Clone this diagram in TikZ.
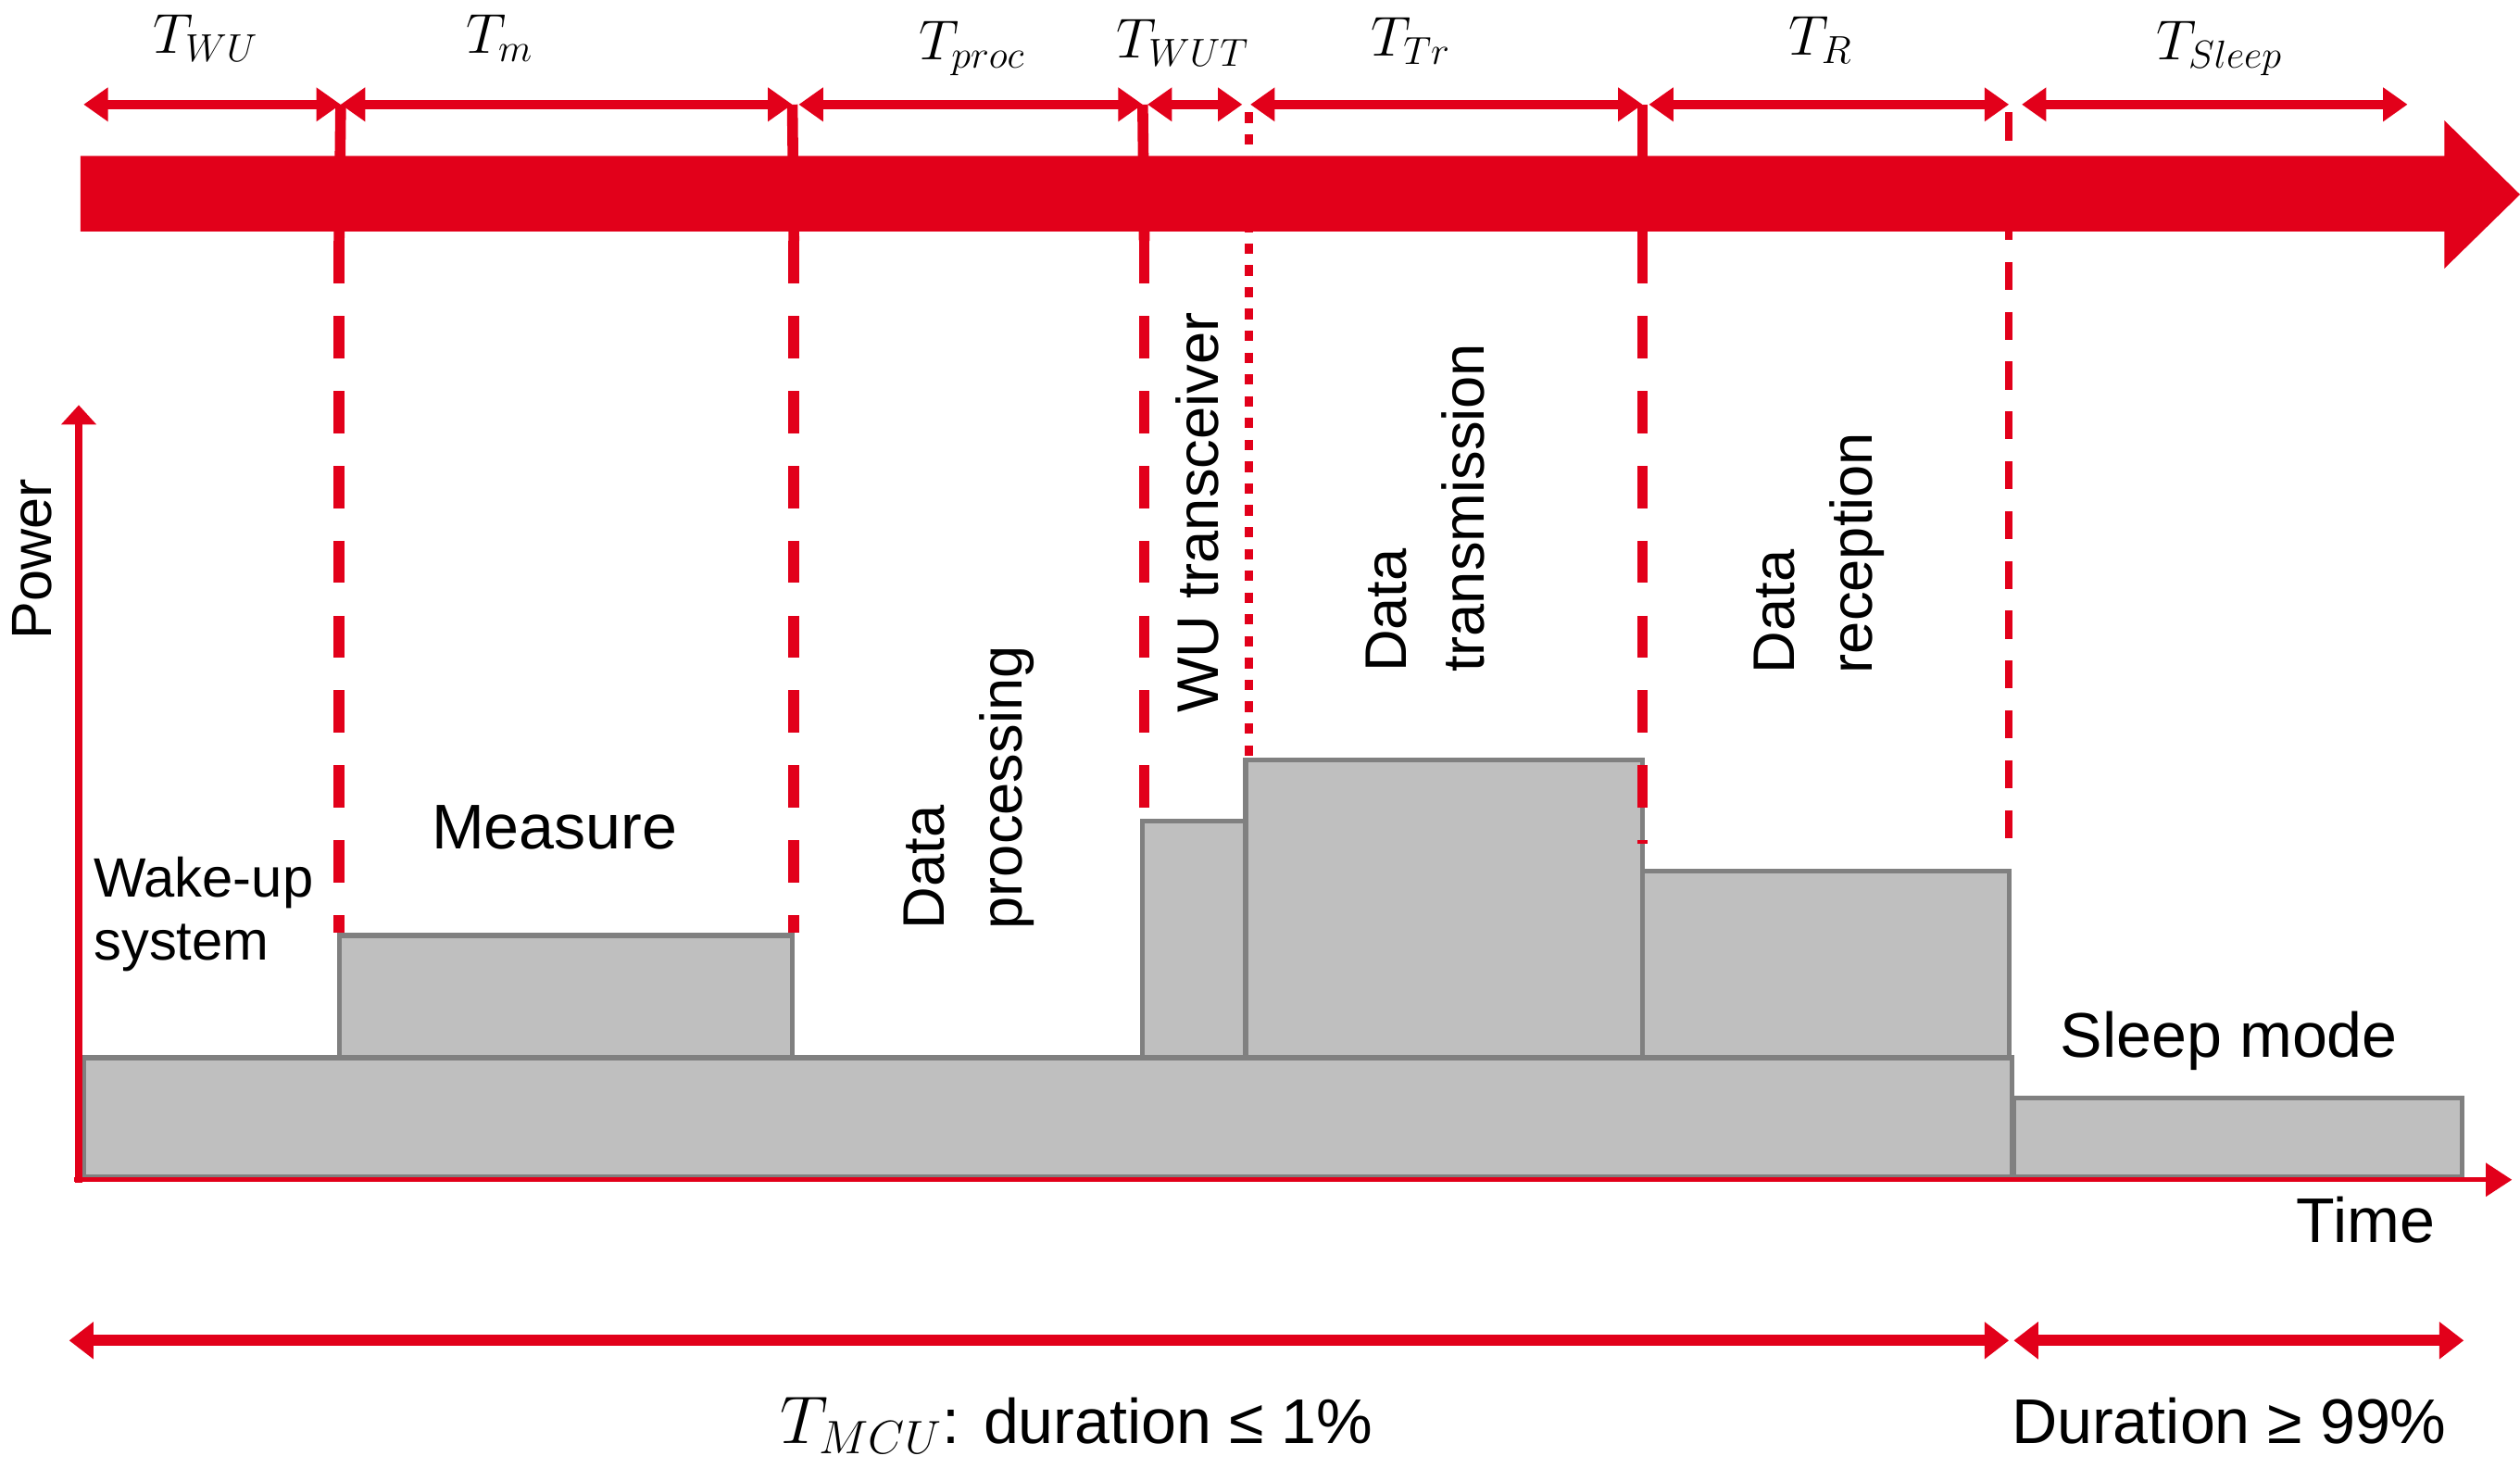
\documentclass[tikz,border=0pt]{standalone}
\usepackage{fontspec}
\setmainfont{Liberation Sans}
\usetikzlibrary{arrows.meta}
\definecolor{mcured}{RGB}{226,0,26}
\definecolor{barfill}{RGB}{191,191,191}
\definecolor{baredge}{RGB}{128,128,128}

\begin{document}
\begin{tikzpicture}[x=0.017353cm, y=-0.017353cm,
		span/.style={color=mcured, line width=3pt, {Triangle[length=7.5pt,width=10pt]}-{Triangle[length=7.5pt,width=10pt]}},
		wide span/.style={color=mcured, line width=3.5pt, {Triangle[length=7.5pt,width=11pt]}-{Triangle[length=7.5pt,width=11pt]}},
		divider/.style={color=mcured, line width=3.3pt, dash pattern=on 13pt off 10pt},
		stub/.style={color=mcured, line width=3.3pt},
		bar/.style={fill=barfill, draw=baredge, line width=1.5pt},
		lbl/.style={inner sep=0pt, font=\fontsize{19.4}{23}\selectfont},
		phase/.style={inner sep=0pt, rotate=90, align=left, font=\fontsize{18}{24}\selectfont},
		tlabel/.style={inner sep=0pt, font=\fontsize{16.5}{20}\selectfont}]
			\useasboundingbox (0,0) rectangle (1568,921);

			\coordinate (p0) at (52,65);
			\coordinate (p1) at (212,65);
			\coordinate (p2) at (493,65);
			\coordinate (p3) at (497,65);
			\coordinate (p4) at (711,65);
			\coordinate (p5) at (714,65);
			\coordinate (p6) at (773,65);
			\coordinate (p7) at (778,65);
			\coordinate (p8) at (1022,65);
			\coordinate (p9) at (1026,65);
			\coordinate (p10) at (1250,65);
			\coordinate (p11) at (1258,65);
			\coordinate (p12) at (1498,65);

			\node[tlabel, anchor=base] (twu) at (128,33) {$T_{WU}$};
			\node[tlabel, anchor=base] (tm) at (311,33) {$T_{m}$};
			\node[tlabel, anchor=base] (tproc) at (605,37) {$T_{proc}$};
			\node[tlabel, anchor=base] (twut) at (736,36) {$T_{WUT}$};
			\node[tlabel, anchor=base] (ttr) at (878,35) {$T_{Tr}$};
			\node[tlabel, anchor=base] (tr) at (1133,34) {$T_{R}$};
			\node[tlabel, anchor=base] (tsleep) at (1381,37) {$T_{Sleep}$};

			\filldraw[bar] (52,658) rectangle (1252,732);
			\filldraw[bar] (211,582) rectangle (493,658);
			\filldraw[bar] (711,511) rectangle (775,658);
			\filldraw[bar] (775,473) rectangle (1022,658);
			\filldraw[bar] (1022,542) rectangle (1250,658);
			\filldraw[bar] (1253,683) rectangle (1532,732);

			\coordinate (d1a) at (211,150);
			\coordinate (d1b) at (211,580);
			\coordinate (d2a) at (494,150);
			\coordinate (d2b) at (494,580);
			\coordinate (d3a) at (712,150);
			\coordinate (d3b) at (712,509);
			\coordinate (d4a) at (777,70);
			\coordinate (d4b) at (777,471);
			\coordinate (d5a) at (1022,150);
			\coordinate (d5b) at (1022,525);
			\coordinate (d6a) at (1250,70);
			\coordinate (d6b) at (1250,530);

			\draw[stub] (p1) -- (d1a);
			\draw[stub] (p2) -- (d2a);
			\draw[stub] (p4) -- (d3a);
			\draw[stub] (p8) -- (d5a);
			\draw[divider] (d1a) -- (d1b);
			\draw[divider] (d2a) -- (d2b);
			\draw[divider] (d3a) -- (d3b);
			\draw[color=mcured, line width=2.7pt, dash pattern=on 3.2pt off 3.5pt] (d4a) -- (d4b);
			\draw[divider] (d5a) -- (d5b);
			\draw[color=mcured, line width=2.4pt, dash pattern=on 8.6pt off 6.7pt] (d6a) -- (d6b);

			\fill[color=mcured] (50,97) -- (1521,97) -- (1521,75) -- (1568,121) -- (1521,167) -- (1521,144) -- (50,144) -- cycle;

			\draw[span] (p0) -- (p1);
			\draw[span] (p1) -- (p2);
			\draw[span] (p3) -- (p4);
			\draw[span] (p5) -- (p6);
			\draw[span] (p7) -- (p8);
			\draw[span] (p9) -- (p10);
			\draw[span] (p11) -- (p12);

			\coordinate (o) at (49,736);
			\coordinate (ptop) at (49,252);
			\coordinate (ox) at (46,734);
			\coordinate (tend) at (1563,734);
			\draw[color=mcured, line width=2.5pt, -{Triangle[length=6pt,width=10.5pt]}] (o) -- (ptop);
			\draw[color=mcured, line width=1.5pt, -{Triangle[length=8pt,width=10pt]}] (ox) -- (tend);

			\node[lbl, rotate=90, font=\fontsize{17.4}{20}\selectfont] (power) at (20,348) {Power};
			\node[lbl, anchor=base] (time) at (1472,773) {Time};
			\node[inner sep=0pt, anchor=base west, align=left, font=\fontsize{17}{19.2}\selectfont] (wake) at (58,597) {Wake-up\\system};
			\node[lbl, anchor=base] (measure) at (345,528) {Measure};
			\node[phase] (proc) at (603,490) {Data\\processing};
			\node[phase] (wut) at (745,319) {WU transceiver};
			\node[phase] (trans) at (887,316) {Data\\transmission};
			\node[phase] (recep) at (1132,344) {Data\\reception};
			\node[lbl, anchor=base] (sleep) at (1387,658) {Sleep mode};

			\coordinate (b0) at (43,834);
			\coordinate (b1) at (1250,834);
			\coordinate (b2) at (1253,834);
			\coordinate (b3) at (1533,834);
			\draw[wide span] (b0) -- (b1);
			\draw[wide span] (b2) -- (b3);

			\node[lbl, anchor=base] (tmcu) at (670,898) {$T_{MCU}$: duration ≤ 1\%};
			\node[lbl, anchor=base] (dur) at (1387,898) {Duration ≥ 99\%};
		\end{tikzpicture}
\end{document}
